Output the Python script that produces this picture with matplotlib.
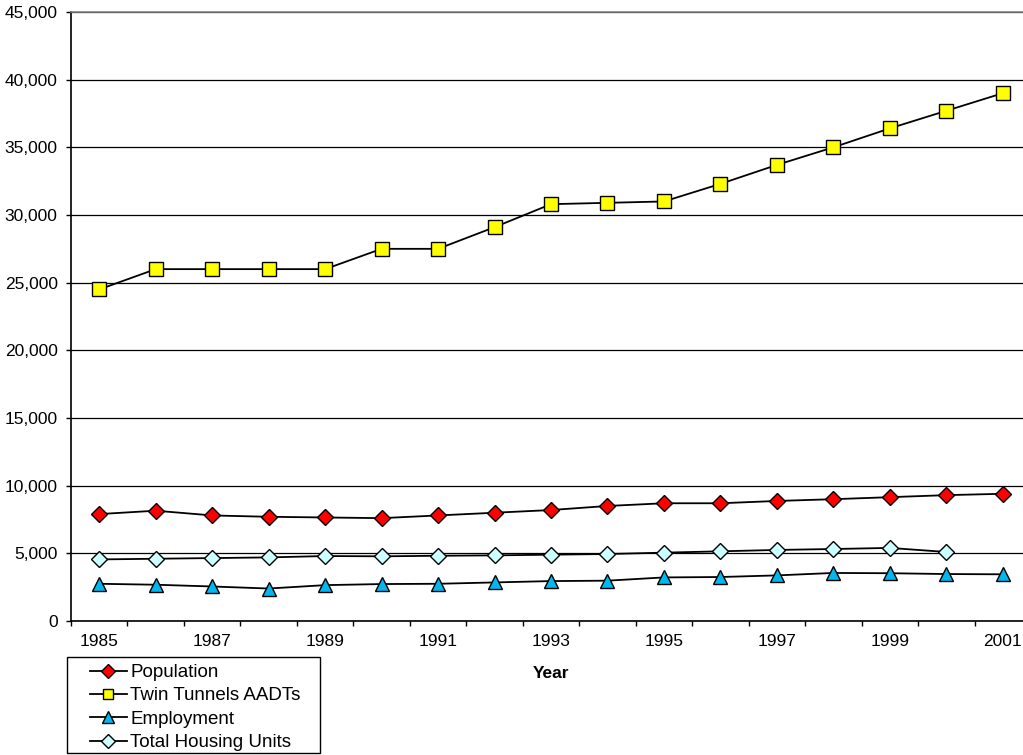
import matplotlib
matplotlib.use("Agg")
import matplotlib.pyplot as plt
import numpy as np
from matplotlib.ticker import FuncFormatter, FixedLocator
from matplotlib.patches import Rectangle

plt.rcParams['font.family'] = ['Liberation Sans', 'DejaVu Sans']

years = list(range(1985, 2002))
population = [7900, 8150, 7800, 7700, 7650, 7600, 7800, 8000, 8200, 8500,
              8700, 8700, 8870, 9000, 9150, 9300, 9400]
tunnels = [24500, 26000, 26000, 26000, 26000, 27500, 27500, 29100, 30800, 30900,
           31000, 32300, 33700, 35000, 36400, 37700, 39000]
employment = [2750, 2680, 2550, 2400, 2650, 2730, 2750, 2850, 2950, 2980,
              3220, 3250, 3370, 3550, 3530, 3470, 3450]
housing = [4550, 4600, 4650, 4700, 4800, 4780, 4820, 4850, 4900, 4950,
           5050, 5150, 5250, 5320, 5400, 5100, np.nan]

W, H = 1023, 755
fig = plt.figure(figsize=(W / 100, H / 100), dpi=100)
ax = fig.add_axes([71 / W, 1 - 621 / H, (1031 - 71) / W, (621 - 12) / H])

x = np.arange(len(years))
ax.plot(x, population, color='black', lw=1.3, marker='D', ms=8.3,
        mfc='#ff0000', mec='black', mew=1.0, label='Population', zorder=3)
ax.plot(x, tunnels, color='black', lw=1.3, marker='s', ms=9.5,
        mfc='#ffff00', mec='black', mew=1.0, label='Twin Tunnels AADTs', zorder=3)
ax.plot(x, employment, color='black', lw=1.3, marker='^', ms=10,
        mfc='#00b8ef', mec='black', mew=1.0, label='Employment', zorder=3)
ax.plot(x, housing, color='black', lw=1.3, marker='D', ms=8.3,
        mfc='#ccffff', mec='black', mew=1.0, label='Total Housing Units', zorder=3)

ax.set_xlim(-0.5, len(years) - 0.5)
ax.set_ylim(0, 45000)
ax.set_yticks(np.arange(0, 45001, 5000))
ax.yaxis.set_major_formatter(FuncFormatter(lambda v, p: f'{int(v):,}'))
ax.grid(axis='y', color='black', lw=0.9)
ax.set_axisbelow(True)

# year labels on every other category, tick marks on category boundaries
ax.xaxis.set_major_locator(FixedLocator(x[::2]))
ax.set_xticklabels([str(y) for y in years[::2]])
ax.xaxis.set_minor_locator(FixedLocator(np.arange(-0.5, len(years), 1.0)))
ax.tick_params(axis='x', which='major', length=0, pad=9, labelsize=12.5)
ax.tick_params(axis='x', which='minor', length=3.6, width=1, direction='out')
ax.tick_params(axis='y', length=3.6, width=1, direction='out', labelsize=12.5, pad=6)

ax.spines['right'].set_visible(False)
ax.spines['top'].set_color('#808080')
ax.spines['top'].set_linewidth(1.2)
for s in ('left', 'bottom'):
    ax.spines[s].set_linewidth(1.2)

fig.text(551 / W, 1 - 674 / H, 'Year', ha='center', va='center',
         fontsize=12.5, fontweight='bold')

# legend without its own frame; box drawn separately for wider side margins
leg = fig.legend(loc='upper left', bbox_to_anchor=(90 / W, 1 - 664 / H),
                 frameon=False, fontsize=13.5, handlelength=1.95,
                 handletextpad=0.2, labelspacing=0.33, borderpad=0,
                 borderaxespad=0, markerscale=0.8)
fig.patches.append(Rectangle((67 / W, 1 - 753 / H), (320 - 67) / W, (753 - 657) / H,
                             transform=fig.transFigure, fill=False,
                             edgecolor='black', lw=1.0))

fig.savefig('out.png', dpi=100)
